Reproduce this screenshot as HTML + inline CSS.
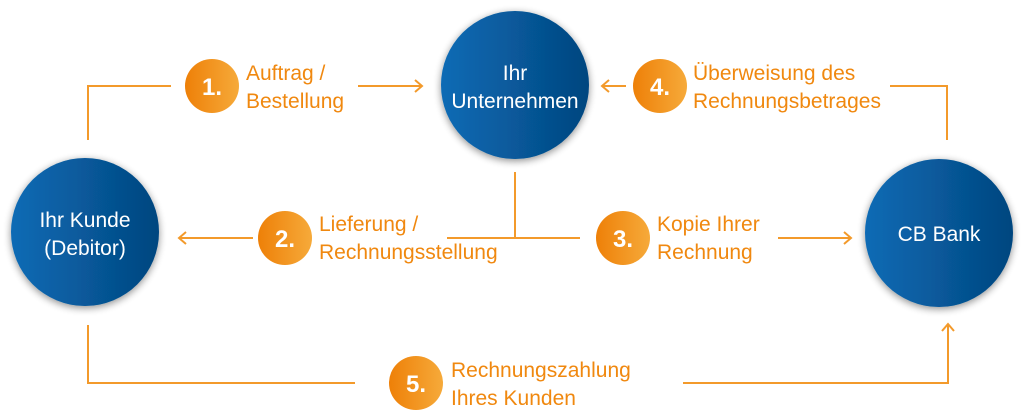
<!DOCTYPE html>
<html><head><style>
body{margin:0;background:#fff;}
svg{display:block;font-family:"Liberation Sans",sans-serif;}
.t{fill:#f0880f;font-size:21px;}
.c{fill:#fff;font-size:21px;}
.b{fill:#fff;font-size:24px;font-weight:bold;}
</style></head><body>
<svg width="1024" height="411" viewBox="0 0 1024 411">
<defs>
<linearGradient id="bl" x1="0" x2="1"><stop offset="0" stop-color="#0a6bb5"/><stop offset="1" stop-color="#04467f"/></linearGradient>
<linearGradient id="or" x1="0" x2="1"><stop offset="0" stop-color="#ee8008"/><stop offset="1" stop-color="#f6aa3a"/></linearGradient>
<filter id="sh" x="-30%" y="-30%" width="160%" height="160%"><feGaussianBlur in="SourceAlpha" stdDeviation="4"/><feOffset dx="0" dy="2"/><feComponentTransfer><feFuncA type="linear" slope="0.45"/></feComponentTransfer><feMerge><feMergeNode/><feMergeNode in="SourceGraphic"/></feMerge></filter>
</defs>
<g stroke="#f39a2b" stroke-width="2" fill="none">
<polyline points="88,140 88,86 171,86"/>
<line x1="358" y1="86" x2="422" y2="86"/><polyline points="415,80 422,86 415,92"/>
<line x1="626" y1="86" x2="602" y2="86"/><polyline points="609,80 602,86 609,92"/>
<polyline points="890,86 947,86 947,140"/>
<line x1="253" y1="238" x2="179" y2="238"/><polyline points="186,232 179,238 186,244"/>
<line x1="447" y1="238" x2="580" y2="238"/><line x1="515" y1="172" x2="515" y2="238"/>
<line x1="778" y1="238" x2="851" y2="238"/><polyline points="844,232 851,238 844,244"/>
<polyline points="88,325 88,383 355,383"/>
<polyline points="683,383 948,383 948,324"/><polyline points="942,331 948,324 954,331"/>
</g>
<g filter="url(#sh)">
<circle cx="515" cy="85" r="74" fill="url(#bl)"/>
<circle cx="85" cy="232" r="74" fill="url(#bl)"/>
<circle cx="939" cy="233" r="74" fill="url(#bl)"/>
</g>
<text class="c" x="515" y="80" text-anchor="middle">Ihr</text>
<text class="c" x="515" y="108" text-anchor="middle">Unternehmen</text>
<text class="c" x="85" y="227" text-anchor="middle">Ihr Kunde</text>
<text class="c" x="85" y="255" text-anchor="middle">(Debitor)</text>
<text class="c" x="939" y="241" text-anchor="middle">CB Bank</text>
<g>
<circle cx="212" cy="86" r="27" fill="url(#or)"/><text class="b" x="212" y="95" text-anchor="middle">1.</text>
<circle cx="660" cy="86" r="27" fill="url(#or)"/><text class="b" x="660" y="95" text-anchor="middle">4.</text>
<circle cx="285" cy="238" r="27" fill="url(#or)"/><text class="b" x="285" y="247" text-anchor="middle">2.</text>
<circle cx="623" cy="238" r="27" fill="url(#or)"/><text class="b" x="623" y="247" text-anchor="middle">3.</text>
<circle cx="416" cy="383" r="27" fill="url(#or)"/><text class="b" x="416" y="392" text-anchor="middle">5.</text>
</g>
<text class="t" x="246" y="80">Auftrag /</text><text class="t" x="246" y="108">Bestellung</text>
<text class="t" x="693" y="80">Überweisung des</text><text class="t" x="693" y="108">Rechnungsbetrages</text>
<text class="t" x="319" y="231">Lieferung /</text><text class="t" x="319" y="259">Rechnungsstellung</text>
<text class="t" x="657" y="231">Kopie Ihrer</text><text class="t" x="657" y="259">Rechnung</text>
<text class="t" x="451" y="377">Rechnungszahlung</text><text class="t" x="451" y="405">Ihres Kunden</text>
</svg>
</body></html>
